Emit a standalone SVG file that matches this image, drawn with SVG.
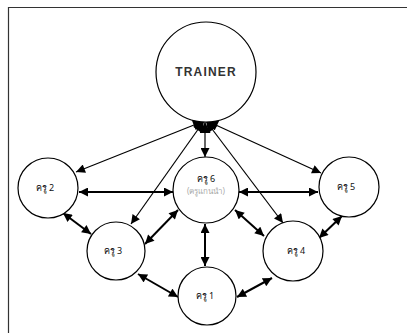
<svg xmlns="http://www.w3.org/2000/svg" width="407" height="333" viewBox="0 0 407 333">
  <defs>
    <marker id="ahb" viewBox="0 0 10 10" refX="10" refY="5" markerWidth="10" markerHeight="9" orient="auto-start-reverse" markerUnits="userSpaceOnUse">
      <path d="M0,0 L10,5 L0,10 z" fill="#000"/>
    </marker>
    <marker id="ahbig" viewBox="0 0 10 10" refX="10" refY="5" markerWidth="13" markerHeight="11" orient="auto-start-reverse" markerUnits="userSpaceOnUse">
      <path d="M0,0 L10,5 L0,10 z" fill="#000"/>
    </marker>
  </defs>
  <style>
    .node { fill: #fff; stroke: #000; stroke-width: 1.2; }
    .lbl { font-family: "Noto Sans", "DejaVu Sans", "Liberation Sans", sans-serif; font-size: 9px; fill: #111; text-anchor: middle; }
    .sub { font-family: "Noto Sans", "DejaVu Sans", "Liberation Sans", sans-serif; font-size: 8px; fill: #aaa; text-anchor: middle; }
    .title { font-family: "Liberation Sans", Arial, sans-serif; font-size: 12px; font-weight: bold; letter-spacing: 1.2px; fill: #333; text-anchor: middle; }
    .thin { stroke: #000; stroke-width: 1.2; fill: none; marker-start: url(#ahbig); marker-end: url(#ahb); }
    .thick { stroke: #000; stroke-width: 2; fill: none; marker-start: url(#ahb); marker-end: url(#ahb); }
  </style>
  <rect width="407" height="333" fill="#fff"/>
  <!-- frame -->
  <path d="M8.5,333 V7.5 H407" fill="none" stroke="#333" stroke-width="1.2"/>

  <g id="connectors">
    <!-- trainer to teachers -->
    <line class="thin" x1="204" y1="121" x2="76" y2="172"/>
    <line class="thin" x1="204" y1="121" x2="131" y2="224"/>
    <line class="thin" x1="205" y1="122" x2="205" y2="157"/>
    <line class="thin" x1="206" y1="121" x2="283" y2="223"/>
    <line class="thin" x1="207" y1="121" x2="321" y2="173"/>
    <!-- between teachers -->
    <line class="thick" x1="79" y1="192" x2="173" y2="192"/>
    <line class="thick" x1="239" y1="192" x2="318" y2="192"/>
    <line class="thick" x1="63" y1="213" x2="91" y2="234"/>
    <line class="thick" x1="145" y1="244" x2="178" y2="210"/>
    <line class="thick" x1="205" y1="224" x2="205" y2="266"/>
    <line class="thick" x1="235" y1="210" x2="264" y2="236"/>
    <line class="thick" x1="138" y1="274" x2="178" y2="297"/>
    <line class="thick" x1="237" y1="297" x2="272" y2="278"/>
    <line class="thick" x1="319" y1="238" x2="342" y2="216"/>
  </g>

  <g id="trainer">
    <circle class="node" cx="206" cy="72" r="50"/>
    <text class="title" x="206" y="76">TRAINER</text>
  </g>
  <g id="teacher6">
    <circle class="node" cx="206" cy="190" r="33"/>
    <text class="lbl" x="206" y="182" fill="#555">ครู 6</text>
    <text class="sub" x="206" y="194">(ครูแกนนำ)</text>
  </g>
  <g id="teacher2">
    <circle class="node" cx="48" cy="188" r="30"/>
    <text class="lbl" x="45" y="191">ครู 2</text>
  </g>
  <g id="teacher5">
    <circle class="node" cx="349" cy="187" r="30"/>
    <text class="lbl" x="346" y="190">ครู 5</text>
  </g>
  <g id="teacher3">
    <circle class="node" cx="116" cy="251" r="29"/>
    <text class="lbl" x="113" y="254">ครู 3</text>
  </g>
  <g id="teacher4">
    <circle class="node" cx="293" cy="251" r="30"/>
    <text class="lbl" x="296" y="254">ครู 4</text>
  </g>
  <g id="teacher1">
    <circle class="node" cx="207" cy="296" r="29"/>
    <text class="lbl" x="205" y="299">ครู 1</text>
  </g>
</svg>
